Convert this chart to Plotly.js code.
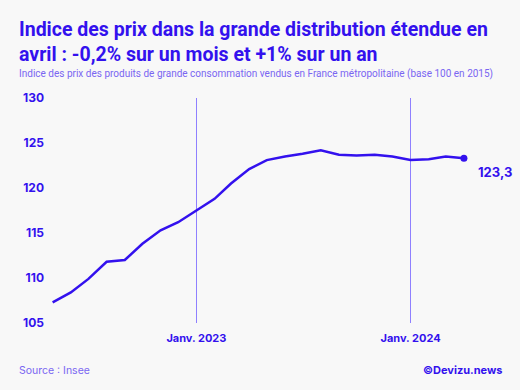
<!DOCTYPE html>
<html>
<head>
<meta charset="utf-8">
<script src="https://cdn.plot.ly/plotly-3.0.1.min.js"></script>
<style>html,body{margin:0;padding:0;background:#f8f8f8;}#chart{width:520px;height:390px;}</style>
</head>
<body>
<div id="chart"></div>
<script>
const months = ['2022-05-01','2022-06-01','2022-07-01','2022-08-01','2022-09-01','2022-10-01','2022-11-01','2022-12-01',
  '2023-01-01','2023-02-01','2023-03-01','2023-04-01','2023-05-01','2023-06-01','2023-07-01','2023-08-01',
  '2023-09-01','2023-10-01','2023-11-01','2023-12-01','2024-01-01','2024-02-01','2024-03-01','2024-04-01'];
const indexValues = [107.3,108.4,109.9,111.8,112.0,113.8,115.3,116.2,
  117.5,118.8,120.5,122.1,123.1,123.5,123.8,124.2,
  123.7,123.6,123.7,123.5,123.1,123.2,123.5,123.3];
const tickDates = ['2023-01-01','2024-01-01'];
const tickLabels = ['Janv. 2023','Janv. 2024'];
const yTicks = [105,110,115,120,125,130];
const lastLabel = '123,3';

const blue = '#3311ee';
const font = 'Inter, "Noto Sans", sans-serif';
const tfont = 'Roboto, Inter, sans-serif';

const traces = [{
  x: months, y: indexValues, type: 'scatter', mode: 'lines',
  line: {color: blue, width: 2.5}, hoverinfo: 'skip'
},{
  x: [months[months.length-1]], y: [indexValues[indexValues.length-1]],
  type: 'scatter', mode: 'markers', marker: {color: blue, size: 7}, hoverinfo: 'skip'
}];

const PX = 1/225;
const layout = {
  width: 520, height: 390,
  paper_bgcolor: '#f8f8f8', plot_bgcolor: '#f8f8f8',
  showlegend: false,
  margin: {l: 45, r: 15, t: 98, b: 67},
  font: {family: font, color: blue},
  xaxis: {
    type: 'date',
    range: ['2022-04-18','2024-06-10'],
    tickvals: tickDates, ticktext: tickLabels,
    showgrid: true, gridcolor: '#8f80ff', gridwidth: 1,
    zeroline: false, showline: false,
    ticks: '', ticklabelstandoff: 7,
    tickfont: {size: 11, color: blue, family: font, weight: 'bold'},
    fixedrange: true
  },
  yaxis: {
    range: [105,130], tickvals: yTicks,
    showgrid: false, zeroline: false, showline: false,
    ticks: '', tickfont: {size: 12, color: blue, family: font, weight: 'bold'},
    fixedrange: true
  },
  annotations: [{
    text: '<b>Indice des prix dans la grande distribution étendue en<br>avril : -0,2% sur un mois et +1% sur un an</b>',
    xref: 'paper', yref: 'paper', x: -28/460, y: (323-41.5)*PX, xanchor: 'left', yanchor: 'middle', align: 'left',
    showarrow: false, font: {size: 19.5, color: blue, family: tfont}
  },{
    text: 'Indice des prix des produits de grande consommation vendus en France métropolitaine (base 100 en 2015)',
    xref: 'paper', yref: 'paper', x: -28/460, y: (323-74)*PX, xanchor: 'left', yanchor: 'middle',
    showarrow: false, font: {size: 10, color: '#7a66f2', family: tfont}
  },{
    text: '<b>' + lastLabel + '</b>',
    x: months[months.length-1], y: indexValues[indexValues.length-1],
    xanchor: 'left', yanchor: 'top', xshift: 12, yshift: -4,
    showarrow: false, font: {size: 13, color: blue, family: font}
  },{
    text: 'Source : Insee',
    xref: 'paper', yref: 'paper', x: -28/460, y: -47*PX, xanchor: 'left', yanchor: 'middle',
    showarrow: false, font: {size: 10.5, color: '#7a66f2', family: font}
  },{
    text: '<b>©Devizu.news</b>',
    xref: 'paper', yref: 'paper', x: 1, y: -47*PX, xanchor: 'right', yanchor: 'middle',
    showarrow: false, font: {size: 11, color: blue, family: font}
  }]
};

Plotly.newPlot('chart', traces, layout, {displayModeBar: false, staticPlot: true});
</script>
</body>
</html>
